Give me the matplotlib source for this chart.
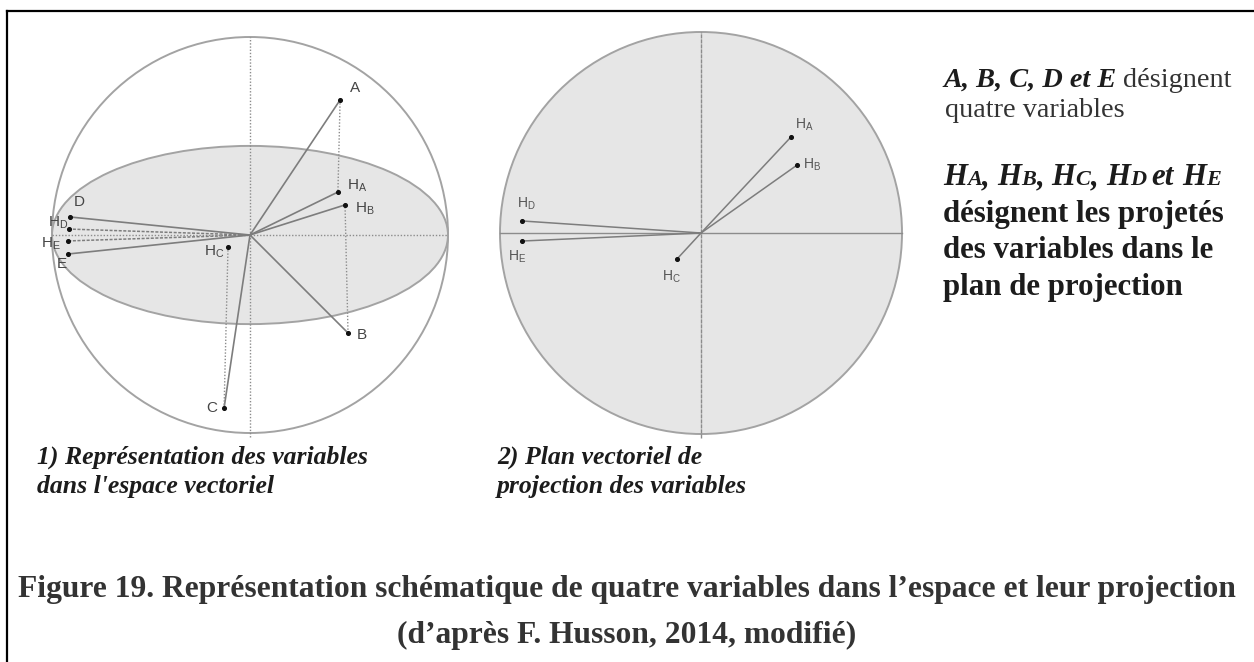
import matplotlib
matplotlib.use("Agg")
import matplotlib.pyplot as plt
from matplotlib.patches import Circle, Ellipse
from matplotlib.lines import Line2D

W, H = 1254, 662

# variables in the unit sphere (left view) and their projections
names = ["A", "B", "C", "D", "E"]
var_x = [0.455, 0.495, -0.131, -0.909, -0.919]
var_y = [0.682, -0.495, -0.874, 0.091, -0.096]
# projections as drawn on the tilted plane of the left view
hl_x = [0.444, 0.480, -0.111, -0.914, -0.919]
hl_y = [0.217, 0.152, -0.061, 0.030, -0.030]
# projections in the factorial plane (right view)
hr_x = [0.448, 0.478, -0.119, -0.891, -0.891]
hr_y = [0.478, 0.338, -0.129, 0.060, -0.040]
plane_tilt = 0.45  # ellipse height / circle height

legend_top = ["A, B, C, D et E", "désignent", "quatre variables"]
legend_bottom = ["désignent les projetés", "des variables dans le", "plan de projection"]
cap1 = ["1) Représentation des variables", "dans l'espace vectoriel"]
cap2 = ["2) Plan vectoriel de", "projection des variables"]
title = ["Figure 19. Représentation schématique de quatre variables dans l’espace et leur projection",
         "(d’après F. Husson, 2014, modifié)"]

fig = plt.figure(figsize=(W / 100, H / 100), dpi=100)
r = fig.canvas.get_renderer()

GRID = "#8c8c8c"
EDGE = "#a3a3a3"
LINE = "#7d7d7d"
FILL = "#e6e6e6"
DOT = (0, (1, 1.3))


def panel(cx, cy, rad):
    # cx, cy, rad in pixels (y from top)
    half = 1.1 * rad
    ax = fig.add_axes([(cx - half) / W, (H - cy - half) / H, 2 * half / W, 2 * half / H])
    ax.set_xlim(-1.1, 1.1)
    ax.set_ylim(-1.1, 1.1)
    ax.set_aspect("equal")
    ax.axis("off")
    return ax


def label(ax, x, y, s, dx, dy, ha, size, color):
    ax.annotate(s, (x, y), xytext=(dx, dy), textcoords="offset pixels",
                ha=ha, va="center", fontsize=size, color=color,
                family="Liberation Sans", annotation_clip=False)


def hname(n):
    return r"$\mathregular{H_{%s}}$" % n


# ---------- left panel ----------
ax1 = panel(250, 235, 198)
ax1.add_patch(Ellipse((0, 0), 2, 2 * plane_tilt, facecolor=FILL, edgecolor=EDGE, lw=1.4, zorder=1))
ax1.add_patch(Circle((0, 0), 1, facecolor="none", edgecolor=EDGE, lw=1.4, zorder=2))
ax1.plot([-1, 1], [0, 0], color=GRID, lw=1, ls=DOT, zorder=2)
ax1.plot([0, 0], [-1.02, 1], color=GRID, lw=1, ls=DOT, zorder=2)
for i, n in enumerate(names):
    ax1.plot([0, var_x[i]], [0, var_y[i]], color=LINE, lw=1.2, zorder=3)
    if n in ("A", "B"):
        ax1.plot([0, hl_x[i]], [0, hl_y[i]], color=LINE, lw=1.2, zorder=3)
    if n in ("D", "E"):
        ax1.plot([0, hl_x[i]], [0, hl_y[i]], color=LINE, lw=1.1, ls=(0, (2, 1)), zorder=3)
    if n in ("A", "B", "C"):
        ax1.plot([var_x[i], hl_x[i]], [var_y[i], hl_y[i]], color=GRID, lw=1, ls=DOT, zorder=3)
ax1.scatter(var_x, var_y, s=7, color="#111111", zorder=4)
ax1.scatter(hl_x, hl_y, s=7, color="#111111", zorder=4)

var_lab = {"A": (15, 12, "center"), "B": (9, -2, "left"), "C": (-7, 0, "right"),
           "D": (9, 15, "center"), "E": (-6, -10, "center")}
hl_lab = {"A": (9, 6, "left"), "B": (10, -4, "left"), "C": (-4, -5, "right"),
          "D": (-1, 6, "right"), "E": (-7, -3, "right")}
for i, n in enumerate(names):
    dx, dy, ha = var_lab[n]
    label(ax1, var_x[i], var_y[i], n, dx, dy, ha, 11, "#454545")
    dx, dy, ha = hl_lab[n]
    label(ax1, hl_x[i], hl_y[i], hname(n), dx, dy, ha, 11, "#454545")

# ---------- right panel ----------
ax2 = panel(701, 233, 201)
ax2.add_patch(Circle((0, 0), 1, facecolor=FILL, edgecolor=EDGE, lw=1.4, zorder=1))
ax2.plot([-1, 1], [0, 0], color=GRID, lw=1, zorder=2)
ax2.plot([0, 0], [-1.02, 1], color=GRID, lw=1, ls=(0, (3, 0.6)), zorder=2)
for i, n in enumerate(names):
    ax2.plot([0, hr_x[i]], [0, hr_y[i]], color=LINE, lw=1.1, zorder=3)
ax2.scatter(hr_x, hr_y, s=7, color="#111111", zorder=4)
hr_lab = {"A": (4, 12, "left"), "B": (6, 0, "left"), "C": (-15, -18, "left"),
          "D": (-5, 17, "left"), "E": (-14, -16, "left")}
for i, n in enumerate(names):
    dx, dy, ha = hr_lab[n]
    label(ax2, hr_x[i], hr_y[i], hname(n), dx, dy, ha, 10, "#555555")


# ---------- texts ----------
SERIF = "Liberation Serif"


def width(s, size, **kw):
    t = fig.text(0, 0, s, fontsize=size, family=SERIF, **kw)
    w = t.get_window_extent(r).width
    t.remove()
    return w


def fit(s, target, **kw):
    return 20 * target / width(s, 20, **kw)


def put(x, y, s, size, **kw):
    t = fig.text(x / W, 1 - y / H, s, fontsize=size, family=SERIF, va="baseline", **kw)
    return t.get_window_extent(r).width


def runs(x, y, parts):
    for s, size, kw, gap in parts:
        x += put(x, y, s, size, **kw) + gap * size * 100 / 72


INK = "#1c1c1c"
bi = dict(weight="bold", style="italic", color=INK)
reg = dict(color="#333333")
bold = dict(weight="bold", color=INK)

s_top = fit(legend_top[0] + " " + legend_top[1], 292, **bi)
runs(943, 87, [(legend_top[0], s_top, bi, 0.25), (legend_top[1], s_top, reg, 0)])
put(945, 117, legend_top[2], s_top, **reg)

s_b = fit(legend_bottom[0], 281, **bold)
s_sub = s_b * 0.72
parts = []
for j, n in enumerate(names):
    parts.append(("H", s_b, bi, 0))
    if j < 3:
        parts.append((n, s_sub, bi, 0))
        parts.append((",", s_b, bi, 0.25))
    elif j == 3:
        parts.append((n, s_sub, bi, 0.25))
        parts.append(("et", s_b, bi, 0.25))
    else:
        parts.append((n, s_sub, bi, 0))
runs(943, 185, parts)
for k, s in enumerate(legend_bottom):
    put(943, 222 + 36.5 * k, s, s_b, **bold)

s_cap = fit(cap1[0], 331, **bi)
put(37, 464, cap1[0], s_cap, **bi)
put(37, 493, cap1[1], s_cap, **bi)
put(497, 464, cap2[0], s_cap, **bi)
put(497, 493, cap2[1], s_cap, **bi)

s_title = fit(title[0], 1218, weight="bold")
fig.text(0.5, 1 - 597 / H, title[0], fontsize=s_title, family=SERIF, weight="bold",
         color="#333333", ha="center", va="baseline")
fig.text(0.5, 1 - 643 / H, title[1], fontsize=s_title, family=SERIF, weight="bold",
         color="#333333", ha="center", va="baseline")

# frame: top and left rules
fig.add_artist(Line2D([7 / W, 1], [1 - 11 / H, 1 - 11 / H], color="black", lw=1.6))
fig.add_artist(Line2D([7 / W, 7 / W], [0, 1 - 11 / H], color="black", lw=1.6))

fig.savefig("out.png", dpi=100, facecolor="white")
